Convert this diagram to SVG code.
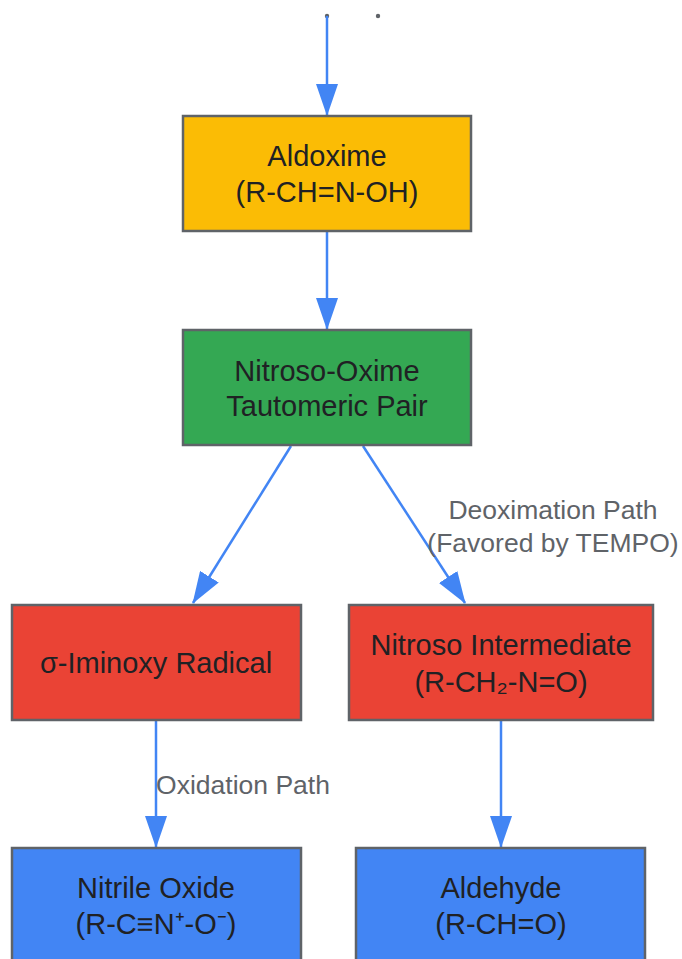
<svg xmlns="http://www.w3.org/2000/svg" width="682" height="959" viewBox="0 0 682 959">
<style>
.node rect{stroke:#5f6368;stroke-width:2.5}
.node text{font-family:"Liberation Sans",Arial,sans-serif;font-size:29px;fill:#202124;text-anchor:middle}
.lbl{font-family:"Liberation Sans",Arial,sans-serif;font-size:26.5px;fill:#5f6368;text-anchor:middle}
.edge{stroke:#4285f4;stroke-width:2.5;fill:none}
</style>
<defs>
<marker id="ah" markerWidth="32" markerHeight="22" refX="31" refY="11" orient="auto" markerUnits="userSpaceOnUse" viewBox="0 0 32 22">
<path d="M0,0 L32,11 L0,22 Z" fill="#4285f4"/>
</marker>
</defs>
<rect width="682" height="959" fill="#ffffff"/>
<circle cx="327" cy="16" r="2.2" fill="#5f6368"/>
<circle cx="378" cy="16" r="2.2" fill="#5f6368"/>
<g id="connectors">
<path class="edge" d="M327,16 L327,115" marker-end="url(#ah)"/>
<path class="edge" d="M327,232 L327,329" marker-end="url(#ah)"/>
<path class="edge" d="M291,446 L193,603" marker-end="url(#ah)"/>
<path class="edge" d="M363,446 L465,603" marker-end="url(#ah)"/>
<path class="edge" d="M156,721 L156,847" marker-end="url(#ah)"/>
<path class="edge" d="M501,721 L501,847" marker-end="url(#ah)"/>
<text class="lbl" x="553" y="519">Deoximation Path</text>
<text class="lbl" x="553" y="552">(Favored by TEMPO)</text>
<text class="lbl" x="243" y="794">Oxidation Path</text>
</g>
<g id="aldoxime" class="node">
<rect x="183" y="116" width="288" height="115" fill="#fbbc05"/>
<text x="327" y="166">Aldoxime</text>
<text x="327" y="202">(R-CH=N-OH)</text>
</g>
<g id="tautomer" class="node">
<rect x="183" y="330" width="288" height="115" fill="#34a853"/>
<text x="327" y="381">Nitroso-Oxime</text>
<text x="327" y="416">Tautomeric Pair</text>
</g>
<g id="iminoxy" class="node">
<rect x="12" y="605" width="289" height="115" fill="#ea4335"/>
<text x="156" y="673">σ-Iminoxy Radical</text>
</g>
<g id="nitroso" class="node">
<rect x="349" y="605" width="304" height="115" fill="#ea4335"/>
<text x="501" y="655">Nitroso Intermediate</text>
<text x="501" y="692">(R-CH₂-N=O)</text>
</g>
<g id="nitrile" class="node">
<rect x="12" y="848" width="289" height="115" fill="#4285f4"/>
<text x="156" y="898">Nitrile Oxide</text>
<text x="156" y="934">(R-C≡N⁺-O⁻)</text>
</g>
<g id="aldehyde" class="node">
<rect x="356" y="848" width="289" height="115" fill="#4285f4"/>
<text x="501" y="898">Aldehyde</text>
<text x="501" y="934">(R-CH=O)</text>
</g>
</svg>
